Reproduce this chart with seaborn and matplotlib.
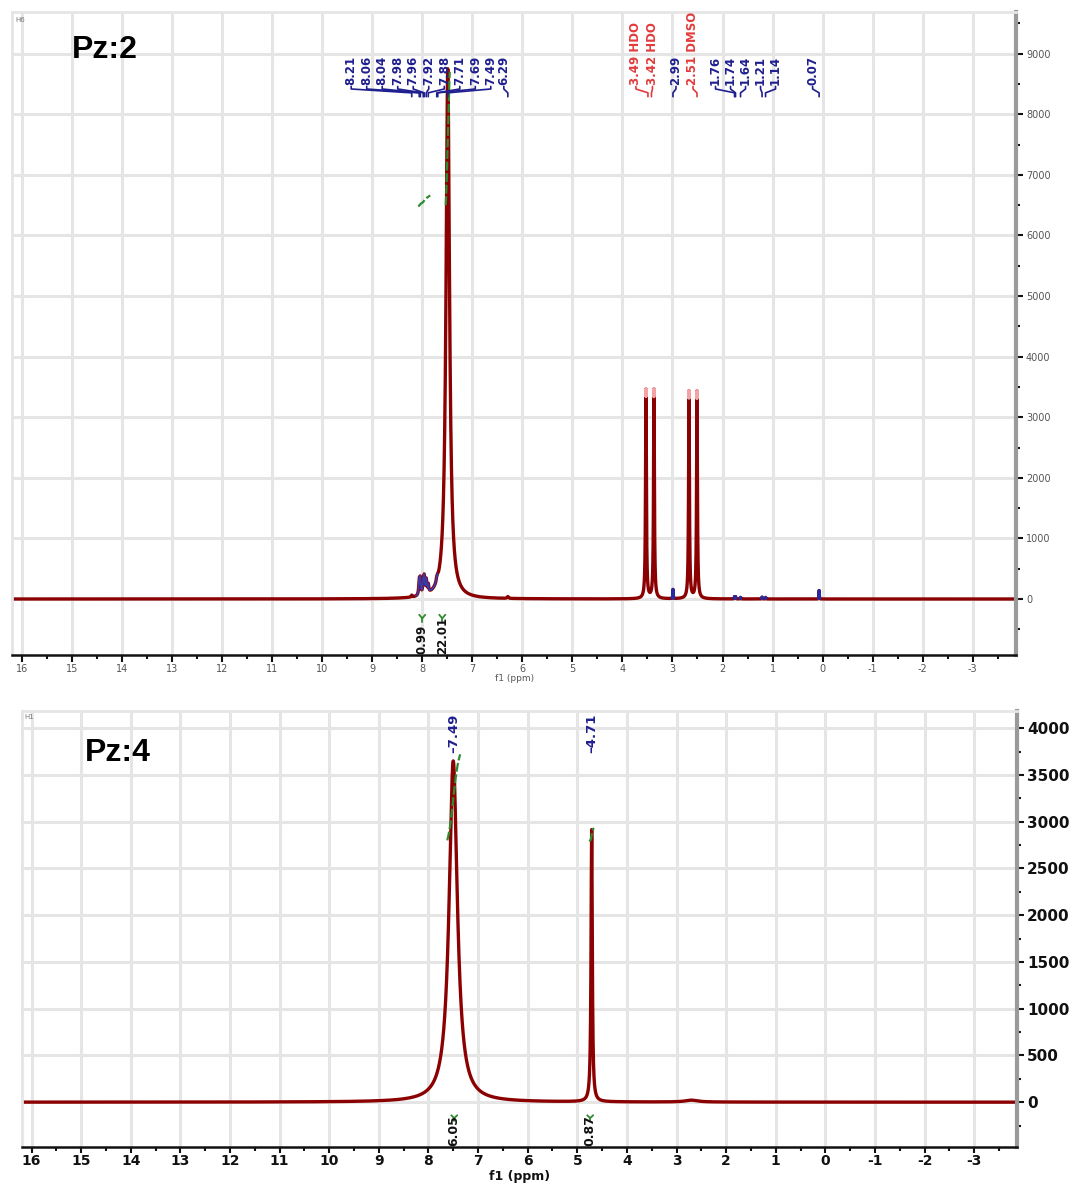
import numpy as np
import pandas as pd
import seaborn as sns
import matplotlib
matplotlib.use("Agg")
import matplotlib.pyplot as plt
from matplotlib.ticker import MultipleLocator

# ---------------- data: Pz:2 (top spectrum) peak list ----------------
top_peak_ppm = [8.21, 8.06, 8.04, 7.98, 7.96, 7.92, 7.88, 7.71, 7.69, 7.49, 6.29,
                3.53, 3.37, 2.99, 2.67, 2.51, 1.76, 1.74, 1.64, 1.21, 1.14, 0.07]
top_peak_height = [30, 230, 250, 200, 260, 220, 130, 60, 40, 8750, 30,
                   3450, 3450, 150, 3420, 3420, 35, 35, 25, 30, 25, 140]
top_peak_width = [0.012, 0.012, 0.012, 0.012, 0.012, 0.012, 0.012, 0.012, 0.012, 0.042, 0.015,
                  0.010, 0.010, 0.004, 0.010, 0.010, 0.006, 0.006, 0.006, 0.006, 0.006, 0.004]
top_blue_peaks = [2.99, 1.76, 1.74, 1.64, 1.21, 1.14, 0.07]
top_solvent_peaks = [3.53, 3.37, 2.67, 2.51]

top_labels = ["8.21", "8.06", "8.04", "7.98", "7.96", "7.92", "7.88", "7.71", "7.69", "7.49", "6.29",
              "3.49 HDO", "3.42 HDO", "2.99", "2.51 DMSO", "1.76", "1.74", "1.64", "1.21", "1.14", "0.07"]
top_label_ppm = [8.21, 8.06, 8.04, 7.98, 7.96, 7.92, 7.88, 7.71, 7.69, 7.49, 6.29,
                 3.49, 3.42, 2.99, 2.51, 1.76, 1.74, 1.64, 1.21, 1.14, 0.07]
top_label_red = [False] * 11 + [True, True, False, True, False, False, False, False, False, False]

top_integral_values = ["0.99", "22.01"]
top_integral_from = [8.08, 7.53]
top_integral_to = [7.84, 7.45]
top_integral_center = [8.00, 7.60]

# ---------------- data: Pz:4 (bottom spectrum) peak list ----------------
bot_peak_ppm = [7.50, 4.71, 2.70]
bot_peak_height = [3650, 2910, 20]
bot_peak_width = [0.10, 0.015, 0.15]
bot_labels = ["7.49", "4.71"]
bot_label_ppm = [7.49, 4.71]
bot_integral_values = ["6.05", "0.87"]
bot_integral_from = [7.62, 4.76]
bot_integral_to = [7.36, 4.66]
bot_integral_center = [7.48, 4.74]

# ---------------- layout (not data) ----------------
top_label_x = [9.42, 9.11, 8.80, 8.49, 8.18, 7.87, 7.56, 7.25, 6.94, 6.63, 6.37,
               3.73, 3.40, 2.93, 2.59, 2.14, 1.84, 1.54, 1.24, 0.94, 0.20]

XMAX, XMIN = 16.2, -3.87
ppm = np.linspace(XMAX, XMIN, 60001)


def spectrum(centers, heights, widths):
    y = np.zeros_like(ppm)
    for c, h, w in zip(centers, heights, widths):
        y += h * w ** 2 / ((ppm - c) ** 2 + w ** 2)
    return y


y_top = spectrum(top_peak_ppm, top_peak_height, top_peak_width)
y_bot = spectrum(bot_peak_ppm, bot_peak_height, bot_peak_width)

sns.set_theme(style="whitegrid")
plt.rcParams["font.family"] = ["DejaVu Sans"]
plt.rcParams["axes.unicode_minus"] = False

fig = plt.figure(figsize=(10.8, 11.84), dpi=100)
ax1 = fig.add_axes([0.011, 0.447, 0.930, 0.543])
ax2 = fig.add_axes([0.020, 0.0312, 0.922, 0.368])

RED = "#8b0000"
BLUE = "#1f1f8f"
LRED = "#e23b3b"
GREEN = "#2e8b2e"
GRID = "#e5e5e5"


def style_axes(ax, ymin, ymax, ymajor, yminor, bold):
    ax.set_xlim(XMAX, XMIN)
    ax.set_ylim(ymin, ymax)
    ax.set_facecolor("white")
    ax.xaxis.set_major_locator(MultipleLocator(1))
    ax.xaxis.set_minor_locator(MultipleLocator(0.5))
    ax.yaxis.set_major_locator(MultipleLocator(ymajor))
    ax.yaxis.set_minor_locator(MultipleLocator(yminor))
    ax.yaxis.tick_right()
    ax.grid(True, which="major", color=GRID, lw=2.2)
    ax.grid(False, which="minor")
    for s in ["left", "top"]:
        ax.spines[s].set_color(GRID)
        ax.spines[s].set_linewidth(2)
    ax.spines["right"].set_color("#9a9a9a")
    ax.spines["right"].set_linewidth(3)
    ax.spines["bottom"].set_color("#111111")
    ax.spines["bottom"].set_linewidth(1.8)
    ax.tick_params(axis="x", which="both", bottom=True, direction="out", color="#111111",
                   width=1.5, pad=1 if bold else 2)
    ax.tick_params(axis="x", which="major", length=5 if not bold else 4)
    ax.tick_params(axis="x", which="minor", length=3)
    ax.tick_params(axis="y", which="both", right=True, left=False, direction="out",
                   color="#111111", width=1.5, pad=2)
    ax.tick_params(axis="y", which="major", length=5)
    ax.tick_params(axis="y", which="minor", length=3)
    if bold:
        for lab in ax.get_xticklabels():
            lab.set_fontweight("bold")
            lab.set_fontsize(10)
            lab.set_color("#111111")
        for lab in ax.get_yticklabels():
            lab.set_fontweight("bold")
            lab.set_fontsize(11)
            lab.set_color("#111111")
    else:
        for lab in ax.get_xticklabels() + ax.get_yticklabels():
            lab.set_fontsize(7)
            lab.set_color("#555555")


def draw_integral(ax, y, a, b, base, top):
    m = (ppm <= a) & (ppm >= b)
    xs = ppm[m]
    seg = y[m]
    cum = np.concatenate([[0], np.cumsum(0.5 * (seg[1:] + seg[:-1]) * np.abs(np.diff(xs)))])
    cum = base + (top - base) * cum / cum[-1]
    sns.lineplot(x=xs, y=cum, ax=ax, color=GREEN, lw=1.6, estimator=None, sort=False,
                 linestyle=(0, (4, 1.2)))


# ---------------- top panel ----------------
sns.lineplot(x=ppm, y=y_top, ax=ax1, color=RED, lw=2.4, estimator=None, sort=False)
mcl = (ppm <= 8.13) & (ppm >= 7.62) & (y_top < 420)
ycl = np.where(mcl, y_top, np.nan)
ax1.plot(ppm, ycl, color="#3a3aa8", lw=1.3)
for c in top_blue_peaks:
    mb = (np.abs(ppm - c) < 0.02) & (y_top > 12)
    ax1.plot(ppm[mb], y_top[mb], color="#2a2aa0", lw=2.2)
for c, h in zip(top_peak_ppm, top_peak_height):
    if c in top_solvent_peaks:
        mp = (np.abs(ppm - c) < 0.05) & (y_top > h - 110)
        ax1.plot(ppm[mp], y_top[mp], color="#f3a3a3", lw=2.6)

draw_integral(ax1, y_top, top_integral_from[0], top_integral_to[0], 6480, 6660)
draw_integral(ax1, y_top, top_integral_from[1], top_integral_to[1], 6500, 8700)

style_axes(ax1, -920, 9690, 1000, 500, bold=False)
ax1.set_xlabel("f1 (ppm)", fontsize=6.5, color="#555555", labelpad=0)
ax1.set_ylabel("")

tr1 = ax1.get_xaxis_transform()
for txt, pk, lx, red in zip(top_labels, top_label_ppm, top_label_x, top_label_red):
    col = LRED if red else BLUE
    ax1.text(lx, 0.886, txt, rotation=90, ha="center", va="bottom", fontsize=8.5,
             fontweight="bold", color=col, transform=tr1)
    ax1.plot([lx, lx, pk, pk], [0.884, 0.880, 0.874, 0.868], color=col, lw=1.2,
             transform=tr1, clip_on=False)

for val, cx in zip(top_integral_values, top_integral_center):
    ax1.plot([cx + 0.06, cx, cx - 0.06], [-260, -320, -260], color=GREEN, lw=1.3)
    ax1.plot([cx, cx], [-320, -380], color=GREEN, lw=1.3)
    ax1.text(cx, -905, val, rotation=90, ha="center", va="bottom", fontsize=8.5,
             fontweight="bold", color="#111111")

ax1.text(0.003, 0.992, "H6", transform=ax1.transAxes, fontsize=5, color="#777777",
         ha="left", va="top")
ax1.text(0.06, 0.941, "Pz:2", transform=ax1.transAxes, fontsize=23, fontweight="bold",
         family=["Liberation Sans", "DejaVu Sans"], color="black", ha="left", va="center")

# ---------------- bottom panel ----------------
sns.lineplot(x=ppm, y=y_bot, ax=ax2, color=RED, lw=2.4, estimator=None, sort=False)
draw_integral(ax2, y_bot, bot_integral_from[0], bot_integral_to[0], 2800, 3720)
draw_integral(ax2, y_bot, bot_integral_from[1], bot_integral_to[1], 2790, 2930)

style_axes(ax2, -480, 4180, 500, 250, bold=True)
ax2.set_xlabel("")
ax2.set_ylabel("")
x_center = ax2.get_position().x0 + 0.5 * ax2.get_position().width
fig.text(x_center, 0.0005, "f1 (ppm)", fontsize=9, fontweight="bold", color="#111111",
         ha="center", va="bottom")

tr2 = ax2.get_xaxis_transform()
for txt, pk in zip(bot_labels, bot_label_ppm):
    ax2.text(pk, 0.905, "\u2013" + txt, rotation=90, ha="center", va="bottom", fontsize=9.5,
             fontweight="bold", color=BLUE, transform=tr2)

for val, cx in zip(bot_integral_values, bot_integral_center):
    ax2.plot([cx + 0.06, cx, cx - 0.06], [-140, -170, -140], color=GREEN, lw=1.3)
    ax2.plot([cx, cx], [-170, -205], color=GREEN, lw=1.3)
    ax2.text(cx, -470, val, rotation=90, ha="center", va="bottom", fontsize=9,
             fontweight="bold", color="#111111")

ax2.text(0.003, 0.995, "H1", transform=ax2.transAxes, fontsize=5, color="#777777",
         ha="left", va="top")
ax2.text(0.064, 0.905, "Pz:4", transform=ax2.transAxes, fontsize=23, fontweight="bold",
         family=["Liberation Sans", "DejaVu Sans"], color="black", ha="left", va="center")

fig.savefig("out.png", dpi=100, facecolor="white")
